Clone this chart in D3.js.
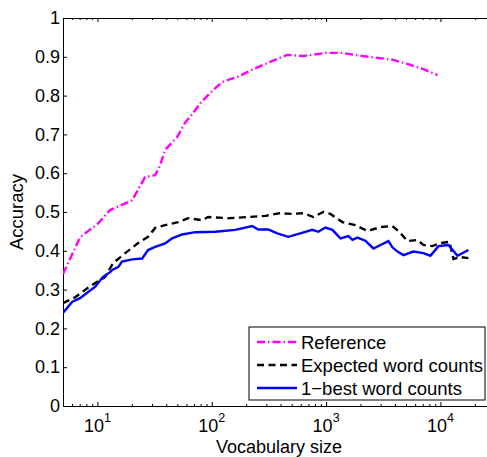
<!DOCTYPE html>
<html>
<head>
<meta charset="utf-8">
<script src="https://cdn.jsdelivr.net/npm/d3@7"></script>
<style>
  body { margin: 0; background: #fff; }
  svg { display: block; font-family: "Liberation Sans", Arial, Helvetica, sans-serif; }
  .axis path, .axis line { stroke: #000; stroke-width: 1; }
  .axis text { fill: #000; font-size: 18px; }
</style>
</head>
<body>
<div id="chart"></div>
<script>
/*
Data: accuracy against vocabulary size (log x)
*/
var refSize = [5, 7.05, 10.1, 12.9, 20.1, 26.1, 32, 35.3, 39.1, 49.8,
  58.5, 68.7, 79.2, 96.9, 123, 167, 231, 325, 457, 632,
  985, 1387, 2075, 2866, 3880, 5470, 7100, 9420];
var refAcc = [0.34, 0.435, 0.47, 0.505, 0.53, 0.59, 0.595, 0.62, 0.66, 0.693,
  0.73, 0.755, 0.78, 0.807, 0.835, 0.848, 0.868, 0.887, 0.905, 0.902,
  0.91, 0.91, 0.902, 0.897, 0.892, 0.879, 0.868, 0.853];

var expSize = [5, 6.37, 8.28, 11.7, 13.7, 17.5, 22.7, 27.7, 32, 39.1,
  50.8, 62.2, 82.4, 93, 139, 208, 294, 397, 506, 632,
  773, 946, 1089, 1387, 1803, 2296, 2985, 3800, 4470, 5145,
  6293, 7100, 8510, 10000, 12000, 13000, 14960, 17580];
var expAcc = [0.265, 0.28, 0.305, 0.333, 0.368, 0.394, 0.42, 0.436, 0.459, 0.466,
  0.474, 0.484, 0.479, 0.487, 0.484, 0.487, 0.49, 0.497, 0.495, 0.497,
  0.487, 0.5, 0.495, 0.474, 0.466, 0.451, 0.461, 0.464, 0.446, 0.425,
  0.428, 0.415, 0.412, 0.42, 0.423, 0.379, 0.384, 0.381];

var bestSize = [5, 6.0, 7.05, 8.28, 9.53, 11.2, 12.9, 13.7, 15.2, 16.4,
  20.1, 24.6, 27.7, 32, 39.1, 45, 55.1, 71.6, 107, 160,
  226, 255, 312, 374, 467, 594, 757, 855, 985, 1135,
  1334, 1567, 1700, 1877, 2206, 2592, 2985, 3510, 3800, 4208,
  4747, 5804, 7100, 8170, 9610, 11750, 14090, 17580];
var bestAcc = [0.24, 0.268, 0.278, 0.294, 0.307, 0.333, 0.345, 0.352, 0.358, 0.372,
  0.378, 0.38, 0.402, 0.41, 0.419, 0.432, 0.442, 0.448, 0.449, 0.454,
  0.464, 0.455, 0.455, 0.445, 0.436, 0.445, 0.454, 0.449, 0.46, 0.454,
  0.432, 0.438, 0.428, 0.434, 0.426, 0.406, 0.415, 0.425, 0.409, 0.398,
  0.389, 0.398, 0.394, 0.387, 0.412, 0.415, 0.387, 0.402];

var seriesNames = ["Reference", "Expected word counts", "1\u2212best word counts"];
var yTicks = [0, 0.1, 0.2, 0.3, 0.4, 0.5, 0.6, 0.7, 0.8, 0.9, 1];
var xMajor = [1, 2, 3, 4]; // exponents of 10

/*
Sizes
*/
var width = 487, height = 457;
var plot = { left: 63, right: 495, top: 18, bottom: 406 };
var fontSize = 18.5;

var svg = d3.select("#chart").append("svg")
  .attr("width", width)
  .attr("height", height);

svg.append("rect").attr("width", width).attr("height", height).attr("fill", "#fff");

// Scales
var xScale = d3.scaleLog().domain([5, 30000]).range([plot.left, plot.right]);
var yScale = d3.scaleLinear().domain([0, 1]).range([plot.bottom, plot.top]);

// minor tick values 2..9 x 10^k
var xMinor = [];
for (var k = 0; k <= 4; k++) {
  for (var m = 2; m <= 9; m++) {
    var v = m * Math.pow(10, k);
    if (v >= 5 && v <= 30000) xMinor.push(v);
  }
}
var xMajorVals = xMajor.map(function(e) { return Math.pow(10, e); });

// Bottom axis: minor then major ticks, pointing inward
svg.append("g").attr("class", "axis")
  .attr("transform", "translate(0," + plot.bottom + ")")
  .call(d3.axisBottom(xScale).tickValues(xMinor).tickSize(-2).tickSizeOuter(0).tickFormat(""));
svg.append("g").attr("class", "axis")
  .attr("transform", "translate(0," + plot.bottom + ")")
  .call(d3.axisBottom(xScale).tickValues(xMajorVals).tickSize(-4).tickSizeOuter(0).tickFormat(""));

// Top axis (mirrored ticks)
svg.append("g").attr("class", "axis")
  .attr("transform", "translate(0," + plot.top + ")")
  .call(d3.axisTop(xScale).tickValues(xMinor).tickSize(-2).tickSizeOuter(0).tickFormat(""));
svg.append("g").attr("class", "axis")
  .attr("transform", "translate(0," + plot.top + ")")
  .call(d3.axisTop(xScale).tickValues(xMajorVals).tickSize(-4).tickSizeOuter(0).tickFormat(""));

// Left axis
svg.append("g").attr("class", "axis")
  .attr("transform", "translate(" + plot.left + ",0)")
  .call(d3.axisLeft(yScale).tickValues(yTicks).tickSize(-4).tickSizeOuter(0).tickPadding(3)
    .tickFormat(function(d) { return d3.format("")(+d.toFixed(1)); }));

// x tick labels as 10^k
var xLab = svg.append("g").attr("class", "xlabels");
xMajor.forEach(function(e) {
  var t = xLab.append("text")
    .attr("x", xScale(Math.pow(10, e)))
    .attr("y", 432)
    .attr("text-anchor", "middle")
    .attr("font-size", 18);
  t.append("tspan").text("10");
  t.append("tspan").attr("font-size", 12.5).attr("dy", -10).text(e);
});

// Axis titles
svg.append("text")
  .attr("x", (plot.left + plot.right) / 2)
  .attr("y", 453)
  .attr("text-anchor", "middle")
  .attr("font-size", 18)
  .text("Vocabulary size");

svg.append("text")
  .attr("transform", "translate(23," + ((plot.top + plot.bottom) / 2) + ") rotate(-90)")
  .attr("text-anchor", "middle")
  .attr("font-size", fontSize)
  .text("Accuracy");

/*
Lines
*/
var clip = svg.append("clipPath").attr("id", "clip")
  .append("rect")
  .attr("x", plot.left).attr("y", plot.top)
  .attr("width", plot.right - plot.left).attr("height", plot.bottom - plot.top);

var line = d3.line()
  .x(function(d) { return xScale(d[0]); })
  .y(function(d) { return yScale(d[1]); });

var series = [
  { xs: refSize, ys: refAcc, color: "#ff00ff", dash: "8,3,1.5,3", width: 2.4 },
  { xs: expSize, ys: expAcc, color: "#000000", dash: "7,4.5", width: 2.4 },
  { xs: bestSize, ys: bestAcc, color: "#0000ff", dash: null, width: 2.4 }
];

var gLines = svg.append("g").attr("clip-path", "url(#clip)");
series.forEach(function(s) {
  gLines.append("path")
    .datum(d3.zip(s.xs, s.ys))
    .attr("fill", "none")
    .attr("stroke", s.color)
    .attr("stroke-width", s.width)
    .attr("stroke-dasharray", s.dash)
    .attr("d", line);
});

/*
Legend
*/
var legend = svg.append("g").attr("transform", "translate(249,327)");
legend.append("rect")
  .attr("width", 236).attr("height", 73)
  .attr("fill", "#fff").attr("stroke", "#000").attr("stroke-width", 1);

series.forEach(function(s, i) {
  var yy = 15 + i * 23;
  legend.append("line")
    .attr("x1", 8).attr("x2", 48)
    .attr("y1", yy).attr("y2", yy)
    .attr("stroke", s.color)
    .attr("stroke-width", s.width)
    .attr("stroke-dasharray", s.dash);
  legend.append("text")
    .attr("x", 52).attr("y", yy + 6.5)
    .attr("font-size", fontSize)
    .text(seriesNames[i]);
});
</script>
</body>
</html>
